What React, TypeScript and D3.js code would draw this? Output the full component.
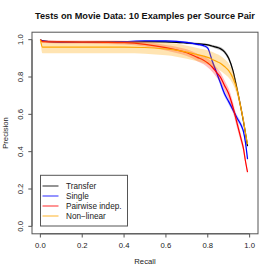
import React from "react";
import * as d3 from "d3";

// recall grid shared by all curves
const recall = [0, 0.01, 0.1, 0.2, 0.3, 0.4, 0.5, 0.6, 0.65, 0.7, 0.75, 0.78, 0.8, 0.82, 0.84, 0.86, 0.88, 0.9, 0.92, 0.94, 0.96, 0.97, 0.98, 0.99];

const transfer = [1.0, 0.993, 0.988, 0.986, 0.987, 0.988, 0.989, 0.988, 0.986, 0.982, 0.978, 0.975, 0.972, 0.966, 0.96, 0.952, 0.935, 0.9, 0.835, 0.735, 0.625, 0.565, 0.5, 0.43];
const transferSpread = [0.003, 0.004, 0.004, 0.004, 0.004, 0.004, 0.004, 0.004, 0.004, 0.005, 0.005, 0.006, 0.006, 0.007, 0.008, 0.009, 0.01, 0.012, 0.012, 0.012, 0.012, 0.012, 0.012, 0.012];

const single = [1.0, 0.992, 0.986, 0.985, 0.986, 0.989, 0.993, 0.993, 0.991, 0.985, 0.975, 0.968, 0.955, 0.89, 0.83, 0.77, 0.71, 0.668, 0.625, 0.58, 0.54, 0.51, 0.45, 0.36];
const singleSpread = [0.003, 0.003, 0.003, 0.003, 0.003, 0.003, 0.003, 0.004, 0.004, 0.005, 0.006, 0.007, 0.008, 0.012, 0.014, 0.015, 0.015, 0.015, 0.015, 0.015, 0.015, 0.015, 0.015, 0.015];

const pairwise = [1.0, 0.99, 0.988, 0.987, 0.986, 0.984, 0.975, 0.957, 0.945, 0.93, 0.905, 0.89, 0.875, 0.855, 0.828, 0.8, 0.755, 0.71, 0.64, 0.552, 0.465, 0.42, 0.35, 0.29];
const pairwiseSpread = [0.004, 0.008, 0.008, 0.008, 0.009, 0.01, 0.012, 0.015, 0.017, 0.018, 0.02, 0.022, 0.024, 0.025, 0.026, 0.027, 0.028, 0.028, 0.028, 0.026, 0.022, 0.018, 0.015, 0.01];

const nonLinear = [1.0, 0.96, 0.96, 0.96, 0.96, 0.96, 0.958, 0.95, 0.944, 0.933, 0.92, 0.912, 0.905, 0.895, 0.884, 0.874, 0.856, 0.834, 0.795, 0.73, 0.625, 0.57, 0.5, 0.44];
const nonLinearSpread = [0.003, 0.033, 0.033, 0.033, 0.033, 0.033, 0.033, 0.034, 0.035, 0.035, 0.036, 0.037, 0.038, 0.04, 0.04, 0.04, 0.04, 0.038, 0.034, 0.028, 0.02, 0.015, 0.012, 0.008];

const seriesNames = ["Transfer", "Single", "Pairwise indep.", "Non\u2212linear"];
const lineColors = ["#000000", "#0000ff", "#ff0000", "#ffa500"];
const bandColors = ["rgba(0,0,0,0.25)", "rgba(0,0,255,0.22)", "rgba(255,0,0,0.25)", "rgba(255,165,0,0.3)"];

const ticks = [0, 0.2, 0.4, 0.6, 0.8, 1.0];

const W = 274;
const H = 274;
const font = "Liberation Sans, Arial, Helvetica, sans-serif";

export default function App() {
  const x = d3.scaleLinear().domain([-0.04, 1.04]).range([32, 258]);
  const y = d3.scaleLinear().domain([-0.04, 1.04]).range([233.8, 32.2]);

  const values = [transfer, single, pairwise, nonLinear];
  const spreads = [transferSpread, singleSpread, pairwiseSpread, nonLinearSpread];

  const line = d3
    .line<number>()
    .x((_, i) => x(recall[i]))
    .y((d) => y(d))
    .curve(d3.curveMonotoneX);

  const band = (sp: number[]) =>
    d3
      .area<number>()
      .x((_, i) => x(recall[i]))
      .y0((d, i) => y(d - sp[i]))
      .y1((d, i) => y(Math.min(d + sp[i], 1.0)))
      .curve(d3.curveMonotoneX);

  const legendY = d3.scaleLinear().domain([0, 3]).range([186, 216]);

  return (
    <svg
      width={W}
      height={H}
      style={{ position: "absolute", left: 0, top: 0, background: "#fff" }}
      fontFamily={font}
    >
      <text x={145} y={19} textAnchor="middle" fontSize={9.2} fontWeight="bold" fill="#111">
        Tests on Movie Data: 10 Examples per Source Pair
      </text>

      {values.map((v, k) => (
        <g key={k}>
          <path d={band(spreads[k])(v) ?? ""} fill={bandColors[k]} stroke="none" />
          <path d={line(v) ?? ""} fill="none" stroke={lineColors[k]} strokeWidth={1.2} />
        </g>
      ))}

      <rect x={32} y={32.2} width={226} height={201.6} fill="none" stroke="#555" strokeWidth={1} />

      {/* x axis */}
      <line x1={x(0)} x2={x(1)} y1={233.8} y2={233.8} stroke="#555" />
      {ticks.map((t) => (
        <g key={"x" + t}>
          <line x1={x(t)} x2={x(t)} y1={233.8} y2={237.5} stroke="#555" />
          <text x={x(t)} y={248} textAnchor="middle" fontSize={7.7} fill="#222">
            {t.toFixed(1)}
          </text>
        </g>
      ))}
      <text x={145} y={264} textAnchor="middle" fontSize={7.7} fill="#222">
        Recall
      </text>

      {/* y axis */}
      <line x1={32} x2={32} y1={y(0)} y2={y(1)} stroke="#555" />
      {ticks.map((t) => (
        <g key={"y" + t}>
          <line x1={28.3} x2={32} y1={y(t)} y2={y(t)} stroke="#555" />
          <text
            transform={`translate(22.5,${y(t)}) rotate(-90)`}
            textAnchor="middle"
            fontSize={7.7}
            fill="#222"
          >
            {t.toFixed(1)}
          </text>
        </g>
      ))}
      <text transform={`translate(8,133) rotate(-90)`} textAnchor="middle" fontSize={7.7} fill="#222">
        Precision
      </text>

      {/* legend */}
      <rect x={40.5} y={175.3} width={87} height={50.7} fill="#fff" stroke="#555" strokeWidth={1} />
      {seriesNames.map((n, k) => (
        <g key={n}>
          <line
            x1={42.5}
            x2={58.5}
            y1={legendY(k)}
            y2={legendY(k)}
            stroke={lineColors[k]}
            strokeOpacity={0.7}
            strokeWidth={1.2}
          />
          <text x={66} y={legendY(k) + 2.9} fontSize={8.2} fill="#222">
            {n}
          </text>
        </g>
      ))}
    </svg>
  );
}
